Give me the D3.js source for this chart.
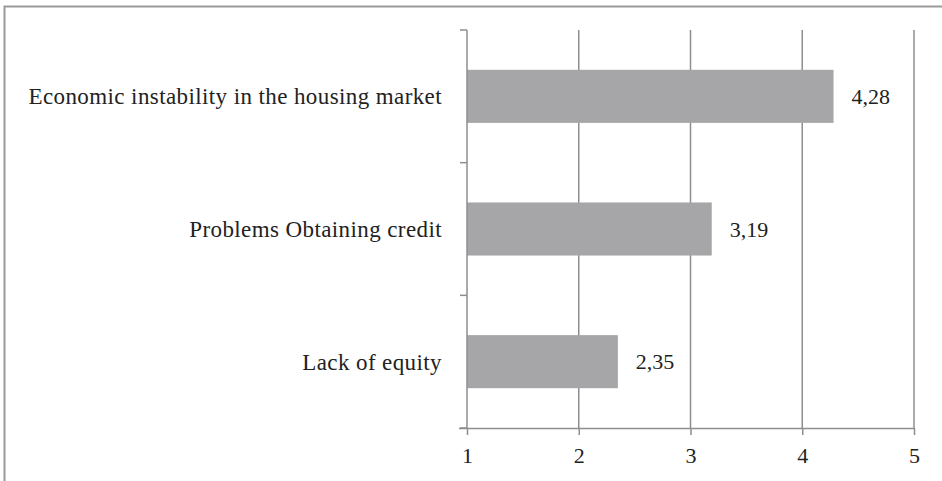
<!DOCTYPE html>
<html>
<head>
<meta charset="utf-8">
<script src="https://cdn.jsdelivr.net/npm/d3@7"></script>
<style>
  html, body { margin: 0; padding: 0; background: #fff; }
</style>
</head>
<body>
<script>
const categories = ['Economic instability in the housing market', 'Problems Obtaining credit', 'Lack of equity'];
const values = [4.28, 3.19, 2.35];
const tickValues = [1, 2, 3, 4, 5];

const width = 942;
const height = 481;
const marginLeft = 467;
const marginRight = 28;
const marginTop = 30;
const marginBottom = 53;

const svg = d3.select('body')
  .append('svg')
  .attr('width', width)
  .attr('height', height)
  .attr('viewBox', [0, 0, width, height]);

// frame (only top and left edges visible)
svg.append('path')
  .attr('d', `M4.5,${height} V6.5 H${width}`)
  .attr('fill', 'none')
  .attr('stroke', '#9a9a9c')
  .attr('stroke-width', 2);

const x = d3.scaleLinear([1, 5], [marginLeft, width - marginRight]);
const y = d3.scaleBand(categories, [marginTop, height - marginBottom])
  .paddingInner(0.6)
  .paddingOuter(0.3);

const font = '"Liberation Serif", "Times New Roman", serif';

// vertical gridlines
svg.append('g')
  .selectAll('line')
  .data(tickValues.slice(1))
  .join('line')
  .attr('x1', (d) => x(d))
  .attr('x2', (d) => x(d))
  .attr('y1', marginTop)
  .attr('y2', height - marginBottom)
  .attr('stroke', '#8e8e90')
  .attr('stroke-width', 1.5);

// bars
svg.append('g')
  .selectAll('rect')
  .data(values)
  .join('rect')
  .attr('x', x(1))
  .attr('y', (d, i) => y(categories[i]))
  .attr('width', (d) => x(d) - x(1))
  .attr('height', y.bandwidth())
  .attr('fill', '#a6a6a8');

// x axis
svg.append('g')
  .attr('transform', `translate(0,${height - marginBottom})`)
  .call(d3.axisBottom(x).tickValues(tickValues).tickFormat(d3.format('d')).tickSize(7).tickSizeOuter(0).tickPadding(12))
  .call((g) => g.select('.domain').attr('d', `M${x(1) - 8},0.5H${x(5)}`))
  .call((g) => g.selectAll('line, .domain').attr('stroke', '#8e8e90').attr('stroke-width', 1.5))
  .call((g) => g.selectAll('text')
    .attr('font-family', font)
    .attr('font-size', 22)
    .attr('fill', '#222'));

// y axis: line with ticks between categories
const yEdges = [marginTop, ...categories.map((c) => y(c) + y.bandwidth() + y.step() * y.paddingInner() / 2)];
yEdges[yEdges.length - 1] = height - marginBottom;
svg.append('line')
  .attr('x1', x(1)).attr('x2', x(1))
  .attr('y1', marginTop).attr('y2', height - marginBottom)
  .attr('stroke', '#8e8e90').attr('stroke-width', 1.5);
svg.append('g')
  .selectAll('line')
  .data(yEdges)
  .join('line')
  .attr('x1', x(1) - 7).attr('x2', x(1))
  .attr('y1', (d) => d).attr('y2', (d) => d)
  .attr('stroke', '#8e8e90').attr('stroke-width', 1.5);

// category labels
svg.append('g')
  .attr('font-family', font)
  .attr('font-size', 23)
  .attr('letter-spacing', 0.4)
  .attr('fill', '#222')
  .attr('text-anchor', 'end')
  .selectAll('text')
  .data(categories)
  .join('text')
  .attr('x', x(1) - 25)
  .attr('y', (d) => y(d) + y.bandwidth() / 2)
  .attr('dy', '0.35em')
  .text((d) => d);

// value labels
svg.append('g')
  .attr('font-family', font)
  .attr('font-size', 22)
  .attr('fill', '#222')
  .selectAll('text')
  .data(values)
  .join('text')
  .attr('x', (d) => x(d) + 18)
  .attr('y', (d, i) => y(categories[i]) + y.bandwidth() / 2)
  .attr('dy', '0.35em')
  .text((d) => d.toFixed(2).replace('.', ','));
</script>
</body>
</html>
